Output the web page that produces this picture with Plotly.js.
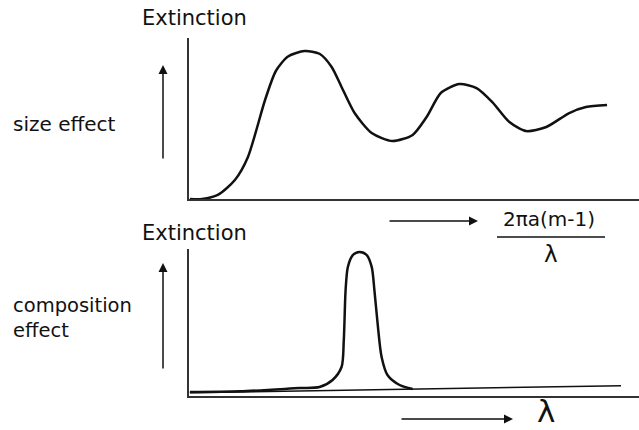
<!DOCTYPE html>
<html>
<head>
<meta charset="utf-8">
<script src="https://cdn.plot.ly/plotly-3.0.1.min.js"></script>
<style>html,body{margin:0;padding:0;background:#fff;}#chart{width:639px;height:430px;}</style>
</head>
<body>
<div id="chart"></div>
<script>
// Size effect curve (extinction vs size parameter), arbitrary units
const sizeX = [0.02, 0.29, 0.64, 1.02, 1.31, 1.69, 1.93, 2.20, 2.57, 2.90, 3.17, 3.39, 3.68, 4.06, 4.52, 4.97, 5.28, 5.60, 6.01, 6.39, 6.74, 7.12, 7.49, 7.94, 8.45, 8.82, 9.29];
const sizeY = [0.00, 0.00, 0.25, 1.18, 2.61, 6.15, 7.95, 8.85, 9.19, 9.02, 8.20, 6.96, 5.34, 4.10, 3.60, 3.98, 5.09, 6.60, 7.14, 6.89, 6.02, 4.78, 4.22, 4.47, 5.34, 5.71, 5.84];

// Composition effect: absorption band (extinction vs wavelength), arbitrary units
const compX = [0.02, 1.13, 2.46, 2.90, 3.19, 3.39, 3.44, 3.48, 3.53, 3.64, 3.79, 3.95, 4.06, 4.12, 4.19, 4.28, 4.41, 4.68, 4.97];
const compY = [0.27, 0.32, 0.54, 0.61, 1.09, 1.97, 3.81, 7.21, 8.78, 9.59, 9.80, 9.59, 8.78, 7.21, 4.97, 2.65, 1.43, 0.75, 0.48];

// Background (continuum) line under the band
const baseX = [0.02, 9.60];
const baseY = [0.22, 0.70];

const labels = {
  yTitle: "Extinction",
  size: "size effect",
  comp: "composition<br>effect",
  sizeParam: "2\u03C0a(m-1)",
  lambda: "\u03BB"
};

const W = 639, H = 430;
const px = v => v / W;
const py = v => 1 - v / H;
const FONT = "DejaVu Sans";
const INK = "#111";

const lineStyle = {color: INK, width: 2.5, shape: "spline", smoothing: 0.7};

const traces = [
  {x: sizeX, y: sizeY, xaxis: "x", yaxis: "y", mode: "lines", line: lineStyle, hoverinfo: "skip"},
  {x: baseX, y: baseY, xaxis: "x2", yaxis: "y2", mode: "lines", line: {color: INK, width: 1.6}, hoverinfo: "skip"},
  {x: compX, y: compY, xaxis: "x2", yaxis: "y2", mode: "lines", line: Object.assign({}, lineStyle, {smoothing: 0.8}), hoverinfo: "skip"}
];

const axisBase = {
  showline: true, linecolor: "#333", linewidth: 1.6,
  showgrid: false, zeroline: false, showticklabels: false, ticks: "",
  fixedrange: true
};

const txt = (text, x, y, size, xanchor, yanchor) => ({
  text: text, xref: "paper", yref: "paper", x: px(x), y: py(y),
  xanchor: xanchor || "left", yanchor: yanchor || "middle", showarrow: false, align: "left",
  borderpad: 0,
  font: {family: FONT, size: size, color: INK}
});

const arrow = (hx, hy, dx, dy) => ({
  text: "", xref: "paper", yref: "paper", x: px(hx), y: py(hy),
  axref: "pixel", ayref: "pixel", ax: dx, ay: dy,
  showarrow: true, arrowhead: 2, arrowsize: 1.2, arrowwidth: 1.5, arrowcolor: INK
});

const layout = {
  width: W, height: H,
  margin: {l: 0, r: 0, t: 0, b: 0},
  paper_bgcolor: "#fff", plot_bgcolor: "rgba(0,0,0,0)",
  showlegend: false,
  xaxis: Object.assign({}, axisBase, {domain: [px(189), 1], range: [0, 10], anchor: "y"}),
  yaxis: Object.assign({}, axisBase, {domain: [py(199), py(38)], range: [0, 10], anchor: "x"}),
  xaxis2: Object.assign({}, axisBase, {domain: [px(189), 1], range: [0, 10], anchor: "y2"}),
  yaxis2: Object.assign({}, axisBase, {domain: [py(396), py(249)], range: [0, 10], anchor: "x2"}),
  annotations: [
    txt(labels.yTitle, 141, 18, 21),
    txt(labels.yTitle, 141, 233, 21),
    txt(labels.size, 12, 124, 20),
    txt(labels.comp, 12, 318, 19.5),
    txt(labels.sizeParam, 549, 219, 20, "center"),
    txt(labels.lambda, 551, 254, 23, "center"),
    txt(labels.lambda, 546, 430, 31, "center", "bottom"),
    arrow(163, 65, 0, 95),
    arrow(163, 263, 0, 107),
    arrow(478, 221, -90, 0),
    arrow(513, 419, -113, 0)
  ],
  shapes: [
    {type: "line", xref: "paper", yref: "paper", x0: px(497), x1: px(605), y0: py(237), y1: py(237),
     line: {color: INK, width: 1.6}}
  ]
};

Plotly.newPlot("chart", traces, layout, {staticPlot: true, displayModeBar: false});
</script>
</body>
</html>
